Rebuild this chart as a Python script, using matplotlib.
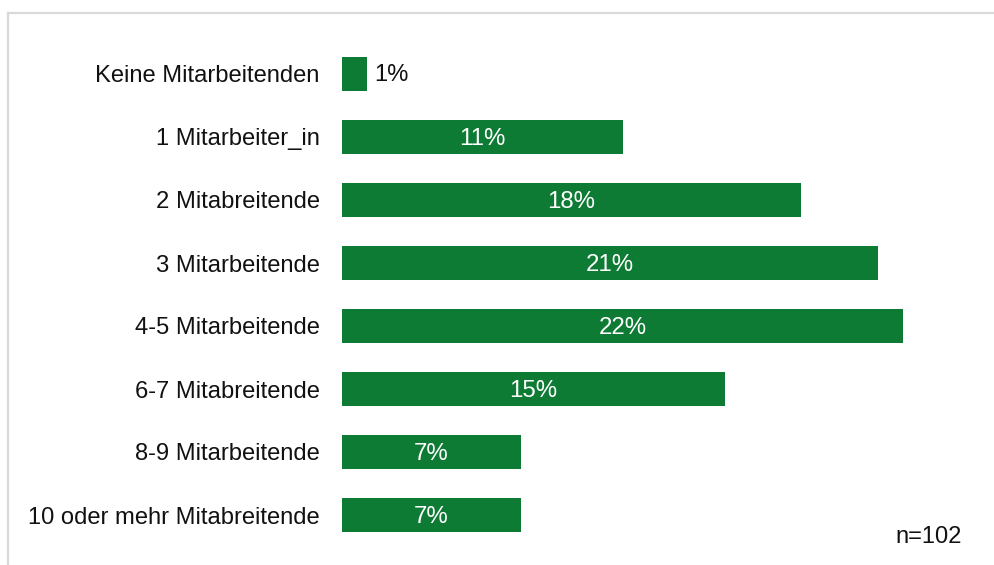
import matplotlib
matplotlib.use("Agg")
import matplotlib.pyplot as plt
from matplotlib.lines import Line2D

plt.rcParams['font.family'] = ['Liberation Sans', 'DejaVu Sans']

# Anzahl der Mitarbeitenden, Anteile in Prozent (n=102)
categories = ["Keine Mitarbeitenden", "1 Mitarbeiter_in", "2 Mitabreitende",
              "3 Mitarbeitende", "4-5 Mitarbeitende", "6-7 Mitabreitende",
              "8-9 Mitarbeitende", "10 oder mehr Mitabreitende"]
shares = [1, 11, 18, 21, 22, 15, 7, 7]
sample_note = "n=102"

bar_color = "#0e7b34"
text_color = "#111111"
fs = 17.1
W, H = 995, 565

fig = plt.figure(figsize=(W / 100, H / 100), dpi=100)
fig.patch.set_facecolor("white")

# plot area: x=0 at 342px, 25.5px per percent; rows every 63px starting at 74px
left = 342 / W
width = 25 * 25.5 / W
top = 1 - (74 - 63 * 0.75) / H
bottom = 1 - (515 + 63 * 0.75) / H
ax = fig.add_axes([left, bottom, width, top - bottom])

ypos = list(range(len(categories)))
ax.barh(ypos, shares, height=0.55, color=bar_color)
ax.set_xlim(0, 25)
ax.set_ylim(len(categories) - 0.25, -0.75)

ax.set_yticks(ypos)
ax.set_yticklabels(categories, fontsize=fs, color=text_color)
ax.tick_params(axis="y", length=0, pad=16)
ax.set_xticks([])
for s in ax.spines.values():
    s.set_visible(False)

for y, v in zip(ypos, shares):
    if v < 3:
        ax.text(v + 0.25, y + 0.02, f"{v}%", ha="left", va="center",
                fontsize=fs, color=text_color)
    else:
        ax.text(v / 2, y + 0.03, f"{v}%", ha="center", va="center",
                fontsize=17.3, color="white")

fig.text(962 / W, 1 - 537 / H, sample_note, ha="right", va="center",
         fontsize=fs, color=text_color)

# light grey frame on the left and top
fig.add_artist(Line2D([8 / W, 8 / W], [0, 1 - 13 / H], color="#d9d9d9",
                      lw=1.6, transform=fig.transFigure))
fig.add_artist(Line2D([8 / W, 1], [1 - 13 / H, 1 - 13 / H], color="#d9d9d9",
                      lw=1.6, transform=fig.transFigure))

fig.savefig("out.png", dpi=100)
